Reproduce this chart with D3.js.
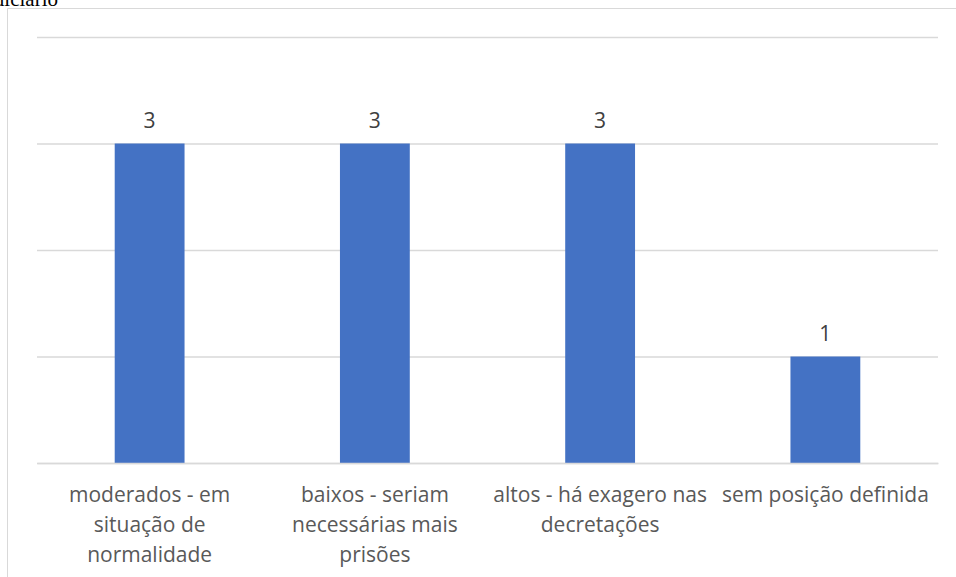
<!DOCTYPE html>
<html>
<head>
<meta charset="utf-8">
<script src="https://cdn.jsdelivr.net/npm/d3@7"></script>
<style>
  html, body { margin: 0; padding: 0; background: #fff; }
  svg { display: block; }
</style>
</head>
<body>
<script>
// Opinion categories and counts
const categories = [
  ["moderados - em", "situação de", "normalidade"],
  ["baixos - seriam", "necessárias mais", "prisões"],
  ["altos - há exagero nas", "decretações"],
  ["sem posição definida"]
];
const values = [3, 3, 3, 1];
const yTicks = [0, 1, 2, 3, 4];

const W = 956, H = 577;
const margin = { left: 37, right: 18, top: 37, bottom: 114 };
const font = "'Open Sans', 'Noto Sans', sans-serif";

const svg = d3.select("body").append("svg")
  .attr("width", W).attr("height", H);

// Caption fragment above the chart frame
svg.append("text")
  .attr("x", 58).attr("y", 6)
  .attr("text-anchor", "end")
  .attr("font-family", "Liberation Serif, Times New Roman, serif")
  .attr("font-size", 21)
  .attr("fill", "#000")
  .text("judiciário");

// Chart frame
svg.append("path")
  .attr("d", `M7.5,${H} V8.5 H${W}`)
  .attr("fill", "none")
  .attr("stroke", "#d9d9d9")
  .attr("stroke-width", 1);

const x = d3.scaleBand()
  .domain(d3.range(categories.length))
  .range([margin.left, W - margin.right])
  .paddingInner(0.69)
  .paddingOuter(0.345);

const y = d3.scaleLinear()
  .domain([0, 4])
  .range([H - margin.bottom, margin.top]);

// Horizontal gridlines
svg.append("g")
  .attr("class", "grid")
  .attr("transform", `translate(${margin.left},0)`)
  .call(d3.axisLeft(y).tickValues(yTicks).tickSize(-(W - margin.right - margin.left)).tickFormat(""))
  .call(g => g.select(".domain").remove())
  .call(g => g.selectAll("line").attr("stroke", "#d9d9d9").attr("stroke-width", 1.5));

// Bars
svg.append("g")
  .selectAll("rect")
  .data(values)
  .join("rect")
  .attr("x", (d, i) => x(i))
  .attr("y", d => y(d))
  .attr("width", x.bandwidth())
  .attr("height", d => y(0) - y(d))
  .attr("fill", "#4472c4");

// Value labels
svg.append("g")
  .selectAll("text")
  .data(values)
  .join("text")
  .attr("x", (d, i) => x(i) + x.bandwidth() / 2)
  .attr("y", d => y(d) - 16)
  .attr("text-anchor", "middle")
  .attr("font-family", font)
  .attr("font-size", 21)
  .attr("fill", "#404040")
  .text(d => d);

// Category labels (wrapped)
const xAxis = svg.append("g")
  .attr("transform", `translate(0,${y(0)})`)
  .call(d3.axisBottom(x).tickSize(0).tickFormat(""))
  .call(g => g.select(".domain").attr("stroke", "#d9d9d9").attr("stroke-width", 1.5));

xAxis.selectAll(".tick").each(function (d) {
  const t = d3.select(this).append("text")
    .attr("text-anchor", "middle")
    .attr("font-family", font)
    .attr("font-size", 21)
    .attr("fill", "#595959");
  categories[d].forEach((line, k) => {
    t.append("tspan").attr("x", 0).attr("y", 39 + k * 30).text(line);
  });
});
</script>
</body>
</html>
